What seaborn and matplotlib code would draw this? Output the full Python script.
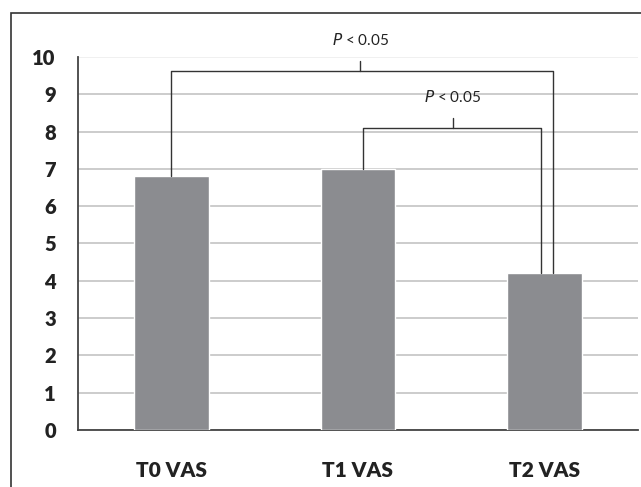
import matplotlib
matplotlib.use("Agg")
import matplotlib.pyplot as plt
import seaborn as sns
from matplotlib.patches import Rectangle

categories = ["T0 VAS", "T1 VAS", "T2 VAS"]
vas_means = [6.8, 7.0, 4.2]
y_ticks = list(range(0, 11))
p_label = "$\\it{P}$ < 0.05"

sns.set_style("white")
plt.rcParams["font.family"] = ["Lato", "DejaVu Sans"]

fig = plt.figure(figsize=(6.41, 4.87), dpi=100)
ax = fig.add_axes([78 / 641, 57 / 487, 560 / 641, 373 / 487])

# outer frame of the figure
fig.patches.append(Rectangle((11 / 641, -0.1), 1.2, (487 - 13) / 487 + 0.1,
                             transform=fig.transFigure, fill=False,
                             edgecolor="#333333", linewidth=1.2))

sns.barplot(x=categories, y=vas_means, color="#8b8c90", saturation=1,
            width=0.4, ax=ax, zorder=3)

ax.set_xlim(-0.5, 2.5)
ax.set_ylim(0, 10)
ax.set_yticks(y_ticks)
ax.set_yticklabels([str(t) for t in y_ticks], fontsize=14.5, fontweight="heavy", color="#222222")
ax.set_xticks([0, 1, 2])
ax.set_xticklabels(categories, fontsize=15, fontweight="heavy", color="#222222")
ax.set_xticks([-0.5, 0.5, 1.5, 2.5], minor=True)
ax.tick_params(axis="x", which="major", length=0, pad=22)
ax.tick_params(axis="x", which="minor", length=8, width=1.2, direction="out", color="#444444")
ax.tick_params(axis="y", length=8, width=1.2, direction="in", color="#444444", pad=16)
ax.set_xlabel("")
ax.set_ylabel("")

ax.yaxis.grid(True, color="#c4c4c4", linewidth=1.2, zorder=0)
ax.set_axisbelow(True)
gl = ax.get_ygridlines()
gl[-1].set_color("#eeeeee")

for side in ["top", "right"]:
    ax.spines[side].set_visible(False)
for side in ["left", "bottom"]:
    ax.spines[side].set_color("#444444")
    ax.spines[side].set_linewidth(1.3)

# significance brackets
lc = "#333333"
def bracket(x0, x1, y0, y1, top, xc, txt_y):
    ax.plot([x0, x0, x1, x1], [y0, top, top, y1], color=lc, lw=1, zorder=4, clip_on=False)
    ax.plot([xc, xc], [top, top + 0.27], color=lc, lw=1, zorder=4, clip_on=False)
    ax.text(xc, txt_y, p_label, ha="center", va="center", fontsize=11, color="#222222")

bracket(0, 2.046, vas_means[0], vas_means[2], 9.62, 1.012, 10.45)
bracket(1.027, 1.982, vas_means[1], vas_means[2], 8.1, 1.509, 8.92)

fig.savefig("out.png", dpi=100)
